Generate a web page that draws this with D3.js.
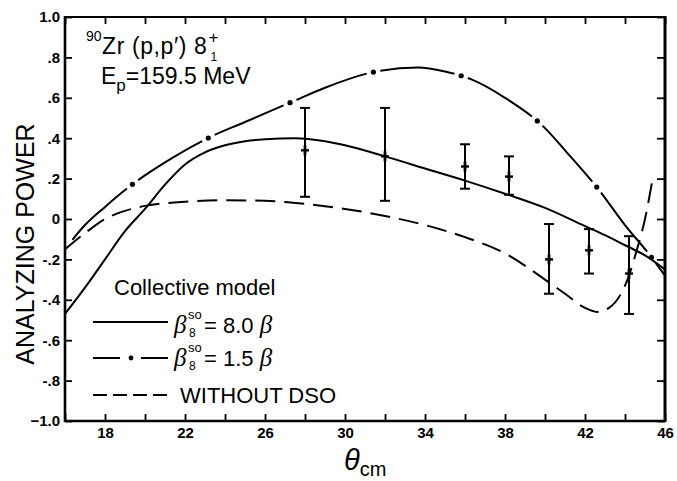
<!DOCTYPE html>
<html>
<head>
<meta charset='utf-8'>
<title>Analyzing power 90Zr</title>
<script src='https://cdn.jsdelivr.net/npm/d3@7'></script>
<style>
  body { margin: 0; background: #fff; }
  text { font-family: 'Liberation Sans', Arial, sans-serif; fill: #000; }
</style>
</head>
<body>
<svg width='677' height='481'></svg>
<script>
// axis ticks
const thetaTicks = [16, 18, 20, 22, 24, 26, 28, 30, 32, 34, 36, 38, 40, 42, 44, 46]
const thetaLabels = [18, 22, 26, 30, 34, 38, 42, 46]
const apTicks = [-1, -0.8, -0.6, -0.4, -0.2, 0, 0.2, 0.4, 0.6, 0.8, 1]

// collective model, beta_so = 8.0 beta (solid)
const solidTheta = [16, 17, 18, 19, 20, 21, 22, 23, 24, 25, 26, 27.5, 29, 30, 32, 34, 36, 38, 40, 42, 43, 44, 45, 46]
const solidAP = [-0.47, -0.34, -0.2, -0.06, 0.05, 0.17, 0.27, 0.33, 0.365, 0.385, 0.395, 0.4, 0.385, 0.365, 0.31, 0.25, 0.19, 0.125, 0.055, -0.035, -0.08, -0.13, -0.18, -0.25]

// beta_so = 1.5 beta (dash-dot)
const dashDotTheta = [16, 17, 18, 19.35, 21, 23.35, 25, 27.35, 29, 31.55, 33.65, 35, 36.35, 38, 40, 41, 42.65, 44, 45.25, 46]
const dashDotAP = [-0.15, -0.03, 0.06, 0.17, 0.28, 0.41, 0.48, 0.58, 0.65, 0.73, 0.75, 0.73, 0.69, 0.6, 0.45, 0.34, 0.15, -0.03, -0.18, -0.28]

// without DSO (dashed)
const dashTheta = [16, 17, 18, 19, 20, 22, 24, 26, 28, 30, 32, 34, 36, 38, 40, 41, 42, 42.6, 43.2, 43.8, 44.2, 44.6, 45, 45.4]
const dashAP = [-0.15, -0.07, 0.0, 0.04, 0.065, 0.085, 0.093, 0.09, 0.075, 0.05, 0.015, -0.03, -0.09, -0.17, -0.3, -0.37, -0.44, -0.46, -0.44, -0.37, -0.28, -0.15, 0.0, 0.21]

// measured points with error bars
const dataTheta = [28, 32, 36, 38.2, 40.2, 42.2, 44.2]
const dataAP = [0.34, 0.31, 0.26, 0.21, -0.2, -0.155, -0.27]
const dataLo = [0.11, 0.09, 0.15, 0.12, -0.37, -0.27, -0.47]
const dataHi = [0.55, 0.55, 0.37, 0.31, -0.025, -0.05, -0.085]

const svg = d3.select('svg')
const x = d3.scaleLinear([16, 46], [65, 665])
const y = d3.scaleLinear([-1, 1], [421, 17])

const fmtAP = d => d === 0 ? '0' : (Math.abs(d) === 1 ? d3.format('.1f')(d) : (d < 0 ? '-' : '') + String(Math.abs(d).toFixed(1)).replace(/^0/, ''))

// axes: ticks inward
svg.append('g').attr('transform', `translate(0,${y(-1)})`)
  .call(d3.axisBottom(x).tickValues(thetaTicks).tickSize(-7).tickPadding(6)
    .tickFormat(d => thetaLabels.includes(d) ? d : ''))
svg.append('g').attr('transform', `translate(0,${y(1)})`)
  .call(d3.axisTop(x).tickValues(thetaTicks).tickSize(-7).tickFormat(''))
svg.append('g').attr('transform', `translate(${x(16)},0)`)
  .call(d3.axisLeft(y).tickValues(apTicks).tickSize(-7).tickPadding(5).tickFormat(fmtAP))
svg.append('g').attr('transform', `translate(${x(46)},0)`)
  .call(d3.axisRight(y).tickValues(apTicks).tickSize(-8).tickFormat(''))

svg.selectAll('.domain').remove()
svg.selectAll('.tick line').attr('stroke', '#000').attr('stroke-width', 1.8)
svg.selectAll('.tick text').style('font-size', '15px').style('font-weight', 'bold')
  .style('font-family', "'Liberation Sans', Arial, sans-serif")

// frame
const frame = svg.append('g').attr('stroke', '#000')
frame.append('line').attr('x1', x(16)).attr('x2', x(46)).attr('y1', y(1)).attr('y2', y(1)).attr('stroke-width', 2)
frame.append('line').attr('x1', x(16)).attr('x2', x(46)).attr('y1', y(-1)).attr('y2', y(-1)).attr('stroke-width', 2.6)
frame.append('line').attr('x1', x(16)).attr('x2', x(16)).attr('y1', y(1) - 1).attr('y2', y(-1) + 1).attr('stroke-width', 2.6)
frame.append('line').attr('x1', x(46)).attr('x2', x(46)).attr('y1', y(1) - 1).attr('y2', y(-1) + 1).attr('stroke-width', 3)

// curves
const line = d3.line().x(d => x(d[0])).y(d => y(d[1])).curve(d3.curveMonotoneX)
const plot = svg.append('g')

plot.append('path').attr('d', line(d3.zip(solidTheta, solidAP)))
  .attr('fill', 'none').attr('stroke', '#000').attr('stroke-width', 2)

plot.append('path').attr('d', line(d3.zip(dashTheta, dashAP)))
  .attr('fill', 'none').attr('stroke', '#000').attr('stroke-width', 2)
  .attr('stroke-dasharray', '20,9')

const dd = plot.append('path').attr('d', line(d3.zip(dashDotTheta, dashDotAP)))
  .attr('fill', 'none').attr('stroke', '#000').attr('stroke-width', 2)
const ddLen = dd.node().getTotalLength()
const period = 89, firstDot = 94, gap = 14
dd.attr('stroke-dasharray', `${period - gap},${gap}`)
  .attr('stroke-dashoffset', period - gap / 2 - firstDot)
for (let s = firstDot; s < ddLen - 3; s += period) {
  const p = dd.node().getPointAtLength(s)
  plot.append('circle').attr('cx', p.x).attr('cy', p.y).attr('r', 2.6).attr('fill', '#000')
}

// data points
const pts = plot.selectAll('g.pt').data(d3.range(dataTheta.length)).join('g').attr('class', 'pt')
  .attr('stroke', '#000').attr('stroke-width', 2)
pts.append('line').attr('x1', i => x(dataTheta[i])).attr('x2', i => x(dataTheta[i]))
  .attr('y1', i => y(dataHi[i])).attr('y2', i => y(dataLo[i]))
pts.append('line').attr('x1', i => x(dataTheta[i]) - 5).attr('x2', i => x(dataTheta[i]) + 5)
  .attr('y1', i => y(dataHi[i])).attr('y2', i => y(dataHi[i]))
pts.append('line').attr('x1', i => x(dataTheta[i]) - 5).attr('x2', i => x(dataTheta[i]) + 5)
  .attr('y1', i => y(dataLo[i])).attr('y2', i => y(dataLo[i]))
pts.append('line').attr('x1', i => x(dataTheta[i]) - 4).attr('x2', i => x(dataTheta[i]) + 4)
  .attr('y1', i => y(dataAP[i])).attr('y2', i => y(dataAP[i])).attr('stroke-width', 2.4)
pts.append('line').attr('x1', i => x(dataTheta[i])).attr('x2', i => x(dataTheta[i]))
  .attr('y1', i => y(dataAP[i]) - 5).attr('y2', i => y(dataAP[i]) + 5).attr('stroke-width', 2.8)

// axis titles
svg.append('text').attr('transform', 'translate(34,244) rotate(-90)')
  .attr('text-anchor', 'middle').style('font-size', '25px').text('ANALYZING POWER')
const xt = svg.append('text').attr('x', 344).attr('y', 470)
xt.append('tspan').style('font-size', '29px').style('font-style', 'italic').text('θ')
xt.append('tspan').attr('dy', 6).style('font-size', '20px').text('cm')

// reaction annotation
svg.append('text').attr('x', 86).attr('y', 41).style('font-size', '14px').text('90')
const t1 = svg.append('text').attr('x', 102).attr('y', 54).style('font-size', '23px')
  .style('letter-spacing', '0.6px').text('Zr (p,p′) 8')
const t1end = 102 + t1.node().getComputedTextLength()
svg.append('text').attr('x', t1end + 1).attr('y', 43).style('font-size', '17px').text('+')
svg.append('text').attr('x', t1end + 3).attr('y', 61).style('font-size', '12px').text('1')
const t2 = svg.append('text').attr('x', 101).attr('y', 84).style('font-size', '23px')
t2.append('tspan').text('E')
t2.append('tspan').attr('dy', 7).style('font-size', '17px').text('p')
t2.append('tspan').attr('dy', -7).text('=159.5 MeV')

// legend
svg.append('text').attr('x', 114).attr('y', 295).style('font-size', '22px').text('Collective model')
const leg = svg.append('g').attr('stroke', '#000').attr('stroke-width', 2)
leg.append('line').attr('x1', 93).attr('x2', 168).attr('y1', 322).attr('y2', 322)
leg.append('line').attr('x1', 93).attr('x2', 168).attr('y1', 358).attr('y2', 358).attr('stroke-dasharray', '27,21,27')
svg.append('circle').attr('cx', 131).attr('cy', 358).attr('r', 2.4).attr('fill', '#000')
leg.append('line').attr('x1', 93).attr('x2', 168).attr('y1', 395).attr('y2', 395).attr('stroke-dasharray', '14,6')

function betaEntry(yb, value) {
  svg.append('text').attr('x', 174).attr('y', yb).style('font-size', '25px')
    .style('font-style', 'italic').style('font-family', "'Liberation Serif', serif").text('β')
  svg.append('text').attr('x', 188).attr('y', yb - 14).style('font-size', '13px').text('so')
  svg.append('text').attr('x', 189).attr('y', yb + 4).style('font-size', '12px').text('8')
  const t = svg.append('text').attr('x', 204).attr('y', yb).style('font-size', '22px')
  t.append('tspan').text('= ' + value + ' ')
  t.append('tspan').style('font-style', 'italic').style('font-family', "'Liberation Serif', serif")
    .style('font-size', '25px').text('β')
}
betaEntry(333, '8.0')
betaEntry(366, '1.5')
svg.append('text').attr('x', 180).attr('y', 403).style('font-size', '22px').text('WITHOUT DSO')
</script>
</body>
</html>
